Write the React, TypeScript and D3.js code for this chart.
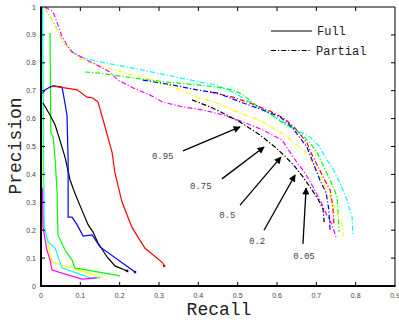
import React from 'react';
import * as d3 from 'd3';

type Pt = [number, number];

// recall, precision pairs
const fullRed: Pt[] = [[0.028, 0.717], [0.092, 0.703], [0.117, 0.677], [0.132, 0.674], [0.145, 0.659], [0.158, 0.595], [0.181, 0.477], [0.188, 0.405], [0.206, 0.301], [0.231, 0.211], [0.264, 0.136], [0.310, 0.082], [0.313, 0.072]];
const fullBlue: Pt[] = [[0.004, 0.69], [0.010, 0.703], [0.023, 0.713], [0.031, 0.717], [0.053, 0.713], [0.056, 0.695], [0.066, 0.613], [0.069, 0.452], [0.069, 0.247], [0.079, 0.247], [0.092, 0.219], [0.107, 0.179], [0.130, 0.183], [0.150, 0.140], [0.239, 0.050]];
const fullBlack: Pt[] = [[0.005, 0.656], [0.023, 0.613], [0.036, 0.577], [0.048, 0.523], [0.061, 0.462], [0.074, 0.380], [0.086, 0.333], [0.104, 0.272], [0.120, 0.219], [0.132, 0.194], [0.145, 0.154], [0.168, 0.104], [0.188, 0.072], [0.219, 0.054]];
const fullGreen: Pt[] = [[0.023, 0.907], [0.025, 0.548], [0.031, 0.534], [0.036, 0.452], [0.041, 0.333], [0.043, 0.183], [0.061, 0.129], [0.079, 0.093], [0.086, 0.065], [0.201, 0.036]];
const fullCyan: Pt[] = [[0.004, 1.0], [0.006, 0.6], [0.008, 0.211], [0.018, 0.158], [0.036, 0.136], [0.053, 0.065], [0.125, 0.029], [0.150, 0.029]];
const fullYellow: Pt[] = [[0.002, 1.0], [0.003, 0.6], [0.004, 0.25], [0.015, 0.168], [0.023, 0.115], [0.028, 0.086], [0.158, 0.029]];
const fullMagenta: Pt[] = [[0.004, 0.35], [0.005, 0.211], [0.015, 0.129], [0.023, 0.093], [0.028, 0.057], [0.104, 0.025], [0.142, 0.029]];

const partCyan: Pt[] = [[0.010, 0.996], [0.036, 0.935], [0.056, 0.875], [0.074, 0.846], [0.099, 0.821], [0.150, 0.803], [0.234, 0.781], [0.320, 0.756], [0.404, 0.731], [0.447, 0.720], [0.488, 0.695], [0.531, 0.659], [0.575, 0.624], [0.615, 0.588], [0.659, 0.552], [0.684, 0.534], [0.709, 0.498], [0.722, 0.462], [0.740, 0.427], [0.760, 0.369], [0.778, 0.308], [0.791, 0.247], [0.793, 0.183]];
const partGreen: Pt[] = [[0.112, 0.767], [0.150, 0.763], [0.234, 0.746], [0.320, 0.731], [0.404, 0.720], [0.447, 0.713], [0.488, 0.703], [0.514, 0.685], [0.552, 0.642], [0.587, 0.613], [0.615, 0.584], [0.659, 0.548], [0.684, 0.513], [0.702, 0.477], [0.714, 0.441], [0.735, 0.380], [0.753, 0.319], [0.755, 0.272], [0.758, 0.194]];
const partRed: Pt[] = [[0.430, 0.695], [0.488, 0.677], [0.531, 0.656], [0.582, 0.627], [0.620, 0.599], [0.646, 0.566], [0.676, 0.513], [0.689, 0.470], [0.702, 0.434], [0.717, 0.391], [0.735, 0.344], [0.742, 0.283], [0.745, 0.219]];
const partBlue: Pt[] = [[0.259, 0.738], [0.336, 0.720], [0.397, 0.703], [0.447, 0.692], [0.514, 0.656], [0.564, 0.631], [0.608, 0.606], [0.638, 0.570], [0.653, 0.541], [0.676, 0.498], [0.689, 0.452], [0.709, 0.380], [0.725, 0.333], [0.732, 0.272], [0.735, 0.194]];
const partBlack: Pt[] = [[0.384, 0.667], [0.430, 0.642], [0.468, 0.616], [0.506, 0.588], [0.557, 0.541], [0.595, 0.498], [0.620, 0.466], [0.646, 0.427], [0.666, 0.391], [0.684, 0.355], [0.704, 0.312], [0.717, 0.276], [0.720, 0.229]];
const partYellow: Pt[] = [[0.010, 0.996], [0.031, 0.946], [0.043, 0.914], [0.056, 0.878], [0.074, 0.842], [0.099, 0.814], [0.150, 0.789], [0.226, 0.760], [0.285, 0.738], [0.336, 0.713], [0.397, 0.677], [0.447, 0.656], [0.506, 0.620], [0.564, 0.588], [0.620, 0.541], [0.676, 0.477], [0.697, 0.427], [0.709, 0.391], [0.727, 0.344], [0.742, 0.297], [0.755, 0.254], [0.768, 0.211], [0.768, 0.179]];
const partMagenta: Pt[] = [[0.010, 1.0], [0.031, 0.982], [0.043, 0.935], [0.053, 0.896], [0.066, 0.864], [0.079, 0.839], [0.107, 0.817], [0.142, 0.792], [0.175, 0.767], [0.196, 0.738], [0.234, 0.710], [0.277, 0.685], [0.310, 0.659], [0.361, 0.642], [0.412, 0.631], [0.463, 0.613], [0.514, 0.588], [0.564, 0.559], [0.613, 0.523], [0.641, 0.462], [0.671, 0.405], [0.692, 0.355], [0.713, 0.297], [0.724, 0.262], [0.740, 0.219], [0.750, 0.176]];

const fullSeries = [
  { c: '#ffff00', d: fullYellow },
  { c: '#00ffff', d: fullCyan },
  { c: '#ff00ff', d: fullMagenta },
  { c: '#00ff00', d: fullGreen },
  { c: '#000000', d: fullBlack },
  { c: '#0000ff', d: fullBlue },
  { c: '#ff0000', d: fullRed },
];
const partSeries = [
  { c: '#00ffff', d: partCyan },
  { c: '#00ff00', d: partGreen },
  { c: '#ffff00', d: partYellow },
  { c: '#ff00ff', d: partMagenta },
  { c: '#ff0000', d: partRed },
  { c: '#0000ff', d: partBlue },
  { c: '#000000', d: partBlack },
];

const xTicks = [0, 0.1, 0.2, 0.3, 0.4, 0.5, 0.6, 0.7, 0.8, 0.9];
const yTicks = [0, 0.1, 0.2, 0.3, 0.4, 0.5, 0.6, 0.7, 0.8, 0.9, 1];

// label, text anchor point, arrow tail, arrow head (data units)
const notes = [
  { t: '0.95', at: [0.282, 0.455], from: [0.361, 0.484], to: [0.506, 0.57] },
  { t: '0.75', at: [0.379, 0.348], from: [0.460, 0.384], to: [0.567, 0.498] },
  { t: '0.5', at: [0.453, 0.244], from: [0.506, 0.29], to: [0.610, 0.462] },
  { t: '0.2', at: [0.529, 0.151], from: [0.567, 0.2], to: [0.646, 0.398] },
  { t: '0.05', at: [0.641, 0.097], from: [0.666, 0.151], to: [0.674, 0.351] },
];

const W = 399, H = 320;
const dashDot = '5,2,1.2,2';

export default function App() {
  const x = d3.scaleLinear().domain([0, 0.9]).range([41, 395]);
  const y = d3.scaleLinear().domain([0, 1]).range([286, 7]);
  const line = d3.line<Pt>().x(d => x(d[0])).y(d => y(d[1]));
  const mono = '"Liberation Mono", "DejaVu Sans Mono", monospace';
  const sans = '"Liberation Sans", Arial, sans-serif';

  return (
    <svg width={W} height={H} style={{ position: 'absolute', left: 0, top: 0, background: '#fff' }}>
      <defs>
        <marker id="ah" viewBox="0 0 10 10" refX="9" refY="5" markerWidth="9" markerHeight="7" markerUnits="userSpaceOnUse" orient="auto">
          <path d="M0,0 L10,5 L0,10 z" fill="#000" />
        </marker>
      </defs>
      <g fill="none" strokeWidth={1.2}>
        {fullSeries.map((s, i) => (
          <path key={'f' + i} d={line(s.d) || ''} stroke={s.c} />
        ))}
        {partSeries.map((s, i) => (
          <path key={'p' + i} d={line(s.d) || ''} stroke={s.c} strokeDasharray={dashDot} />
        ))}
      </g>
      {[fullRed, fullBlue, fullBlack].map((d, i) => (
        <rect key={'e' + i} x={x(d[d.length - 1][0]) - 1.2} y={y(d[d.length - 1][1]) - 1.2} width={2.4} height={2.4}
          fill={['#ff0000', '#0000ff', '#000000'][i]} />
      ))}
      {/* axes box */}
      <g stroke="#000">
        <line x1={41} x2={395} y1={7} y2={7} strokeWidth={1} />
        <line x1={395} x2={395} y1={7} y2={286} strokeWidth={1} />
        <line x1={41} x2={41} y1={6.5} y2={287} strokeWidth={2} />
        <line x1={40} x2={395.5} y1={286} y2={286} strokeWidth={2} />
        {xTicks.slice(1, -1).map(t => (
          <g key={'xt' + t}>
            <line x1={x(t)} x2={x(t)} y1={286} y2={282} strokeWidth={1} />
            <line x1={x(t)} x2={x(t)} y1={7} y2={11} strokeWidth={1} />
          </g>
        ))}
        {yTicks.slice(1, -1).map(t => (
          <g key={'yt' + t}>
            <line x1={41} x2={45} y1={y(t)} y2={y(t)} strokeWidth={1} />
            <line x1={395} x2={391} y1={y(t)} y2={y(t)} strokeWidth={1} />
          </g>
        ))}
      </g>
      <g fontFamily={sans} fontSize={7} fill="#444">
        {xTicks.map(t => (
          <text key={'xl' + t} x={x(t)} y={298} textAnchor="middle">{d3.format('~g')(t)}</text>
        ))}
        {yTicks.map(t => (
          <text key={'yl' + t} x={36} y={y(t) + 2.5} textAnchor="end">{d3.format('~g')(t)}</text>
        ))}
      </g>
      <text x={219} y={315} textAnchor="middle" fontFamily={mono} fontSize={18} fill="#222">Recall</text>
      <text transform="translate(21,146) rotate(-90)" textAnchor="middle" fontFamily={mono} fontSize={18} fill="#222">Precision</text>
      {/* legend */}
      <line x1={271} x2={312} y1={31} y2={31} stroke="#000" strokeWidth={1.2} />
      <text x={317} y={35} fontFamily={mono} fontSize={12} fill="#222">Full</text>
      <line x1={271} x2={311} y1={50.5} y2={50.5} stroke="#000" strokeWidth={1.2} strokeDasharray={dashDot} />
      <text x={316} y={55} fontFamily={mono} fontSize={12} fill="#222">Partial</text>
      {/* annotations */}
      {notes.map(n => (
        <g key={n.t}>
          <line x1={x(n.from[0])} y1={y(n.from[1])} x2={x(n.to[0])} y2={y(n.to[1])} stroke="#000" strokeWidth={1.3} markerEnd="url(#ah)" />
          <text x={x(n.at[0])} y={y(n.at[1])} fontFamily={mono} fontSize={9} fill="#444">{n.t}</text>
        </g>
      ))}
    </svg>
  );
}
